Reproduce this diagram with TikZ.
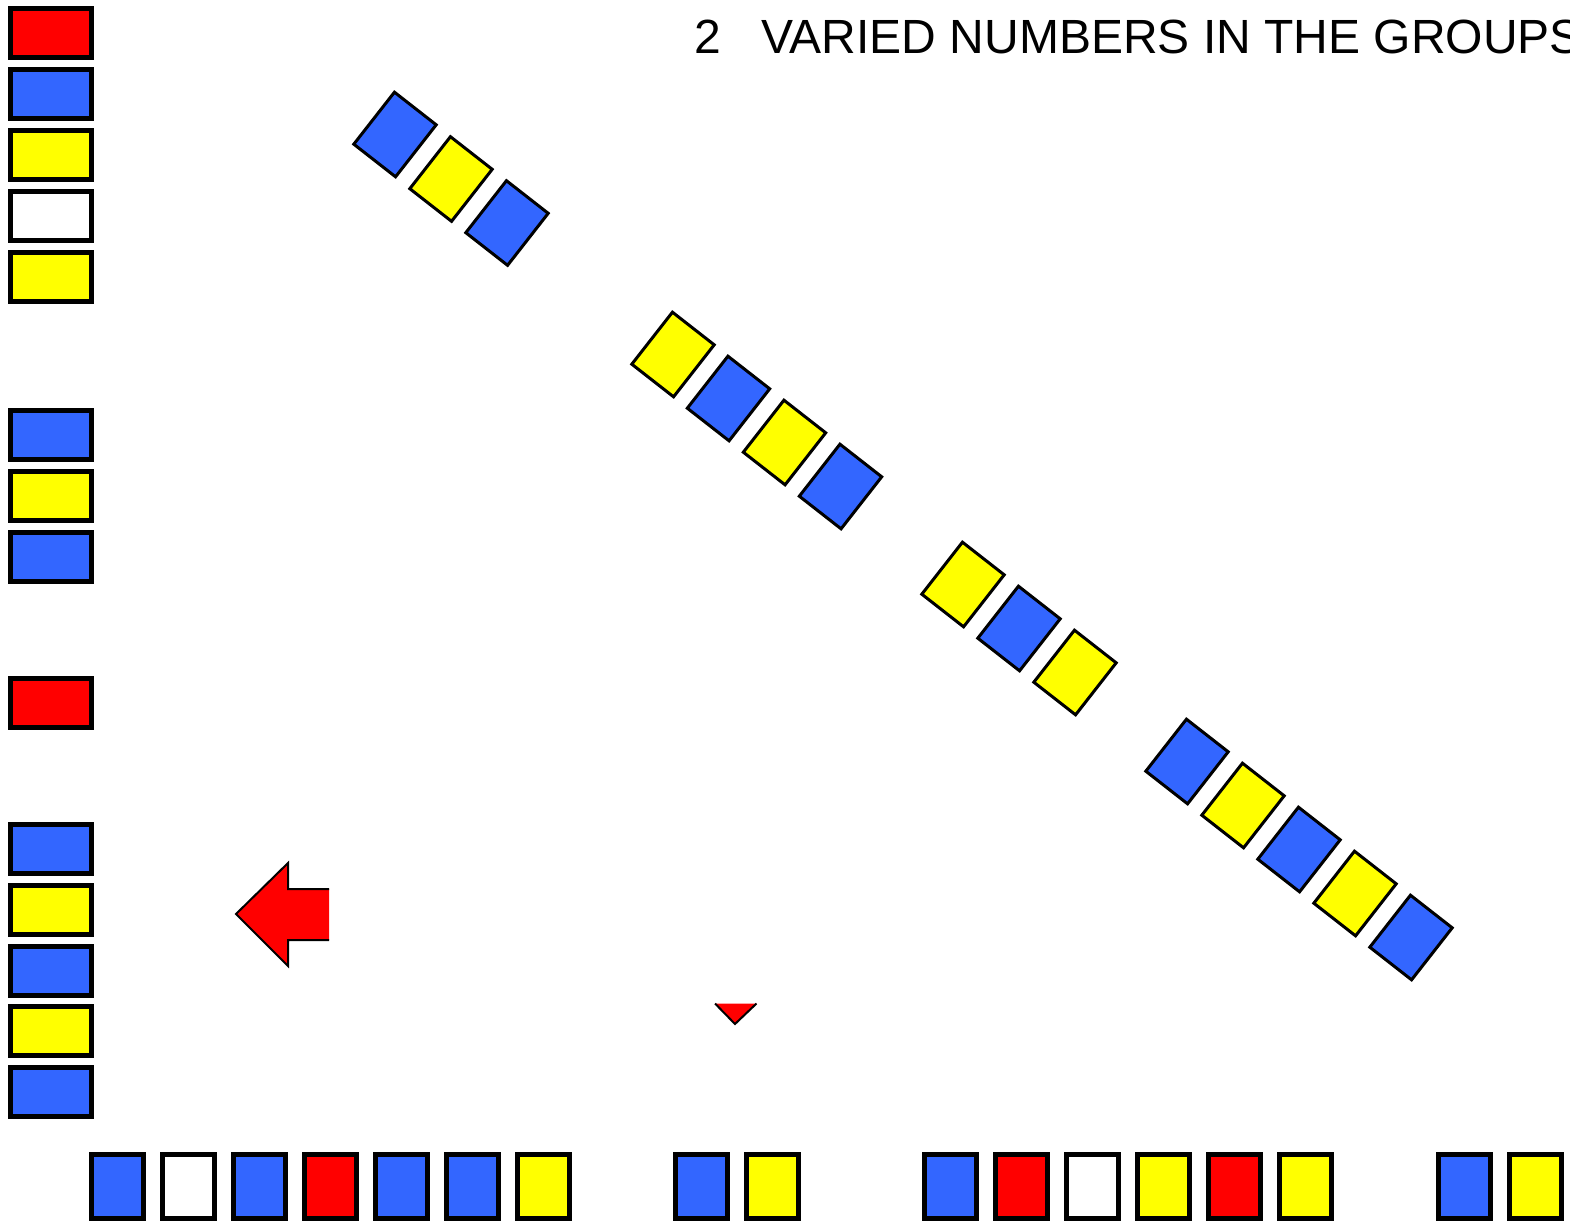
\documentclass[tikz,border=0pt]{standalone}
\usepackage{fontspec}
\setmainfont{Liberation Sans}
\definecolor{tblue}{RGB}{51,102,255}
\definecolor{tred}{RGB}{255,0,0}
\definecolor{tyellow}{RGB}{255,255,0}
\tikzset{
  tile/.style={draw=black, rectangle, inner sep=0pt, outer sep=0pt},
  vtile/.style={tile, line width=5pt, minimum width=52pt, minimum height=64pt},
  htile/.style={tile, line width=5pt, minimum width=81pt, minimum height=49pt},
  rtile/.style={tile, line width=3pt, minimum width=53pt, minimum height=66pt, rotate=-38},
  tB/.style={fill=tblue}, tY/.style={fill=tyellow}, tR/.style={fill=tred}, tW/.style={fill=white},
  titletext/.style={anchor=base west, inner sep=0pt, font=\fontsize{48}{58}\selectfont}
}
\begin{document}
\begin{tikzpicture}[x=1pt,y=-1pt]
\useasboundingbox (0,0) rectangle (1570,1223);
\clip (0,0) rectangle (1570,1223);
\fill[white] (0,0) rectangle (1570,1223);
% title
\node[titletext] (title) at (694,53.5) {2\hspace{40.5pt}VARIED NUMBERS IN THE GROUPS};
% left column
\node[htile,tR] (l1) at (51,33) {};
\node[htile,tB] (l2) at (51,94) {};
\node[htile,tY] (l3) at (51,155) {};
\node[htile,tW] (l4) at (51,216) {};
\node[htile,tY] (l5) at (51,277) {};
\node[htile,tB] (l6) at (51,435) {};
\node[htile,tY] (l7) at (51,496) {};
\node[htile,tB] (l8) at (51,557) {};
\node[htile,tR] (l9) at (51,703) {};
\node[htile,tB] (l10) at (51,849) {};
\node[htile,tY] (l11) at (51,910) {};
\node[htile,tB] (l12) at (51,971) {};
\node[htile,tY] (l13) at (51,1031) {};
\node[htile,tB] (l14) at (51,1092) {};
% bottom row
\node[vtile,tB] (b1) at (117.5,1186) {};
\node[vtile,tW] (b2) at (188.5,1186) {};
\node[vtile,tB] (b3) at (259.5,1186) {};
\node[vtile,tR] (b4) at (330.5,1186) {};
\node[vtile,tB] (b5) at (401.5,1186) {};
\node[vtile,tB] (b6) at (472.5,1186) {};
\node[vtile,tY] (b7) at (543.5,1186) {};
\node[vtile,tB] (b8) at (701.5,1186) {};
\node[vtile,tY] (b9) at (772.5,1186) {};
\node[vtile,tB] (b10) at (950,1186) {};
\node[vtile,tR] (b11) at (1021,1186) {};
\node[vtile,tW] (b12) at (1092,1186) {};
\node[vtile,tY] (b13) at (1163,1186) {};
\node[vtile,tR] (b14) at (1234,1186) {};
\node[vtile,tY] (b15) at (1305,1186) {};
\node[vtile,tB] (b16) at (1464,1186) {};
\node[vtile,tY] (b17) at (1535,1186) {};
% diagonal groups
\node[rtile,tB] (g1a) at (395,134.5) {};
\node[rtile,tY] (g1b) at (451,179) {};
\node[rtile,tB] (g1c) at (507,223) {};
\node[rtile,tY] (g2a) at (673,354.5) {};
\node[rtile,tB] (g2b) at (728.5,398.5) {};
\node[rtile,tY] (g2c) at (784.5,442.5) {};
\node[rtile,tB] (g2d) at (840.5,486.5) {};
\node[rtile,tY] (g3a) at (963,584.5) {};
\node[rtile,tB] (g3b) at (1019,628.5) {};
\node[rtile,tY] (g3c) at (1075,672.5) {};
\node[rtile,tB] (g4a) at (1187,761.5) {};
\node[rtile,tY] (g4b) at (1243,805.5) {};
\node[rtile,tB] (g4c) at (1299,849.5) {};
\node[rtile,tY] (g4d) at (1355,893.5) {};
\node[rtile,tB] (g4e) at (1411,937.5) {};
% red arrow
\fill[tred] (236,914) -- (288,863) -- (288,889) -- (329,889) -- (329,940) -- (288,940) -- (288,966) -- cycle;
\draw[line width=2pt, line join=miter] (329,889) -- (288,889) -- (288,863) -- (236,914) -- (288,966) -- (288,940) -- (329,940);
% red triangle
\fill[tred] (715,1003.5) -- (756.5,1003.5) -- (735,1024) -- cycle;
\draw[line width=2pt] (715,1003.5) -- (735,1024) -- (756.5,1003.5);
\end{tikzpicture}
\end{document}
